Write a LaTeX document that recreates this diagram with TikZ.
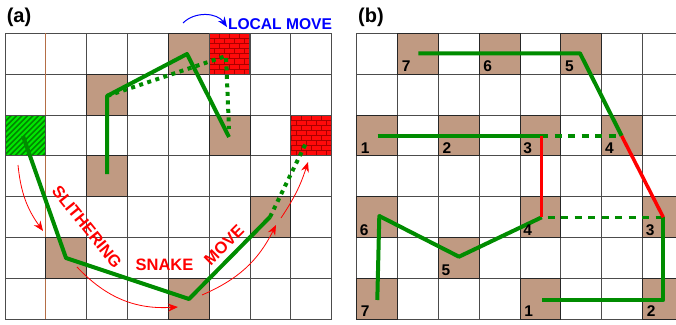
\documentclass[tikz,border=0pt]{standalone}
\usepackage{fontspec}
\setmainfont{Liberation Sans}
\usetikzlibrary{arrows.meta}
\definecolor{cellbrown}{RGB}{192,154,130}
\definecolor{snakegreen}{RGB}{0,140,0}
\definecolor{brickred}{RGB}{255,10,10}
\definecolor{brickline}{RGB}{170,0,0}
\definecolor{hatchlight}{RGB}{0,230,0}
\definecolor{hatchdark}{RGB}{0,135,0}
\definecolor{siennaline}{RGB}{180,110,70}
\newcommand{\cellA}[2]{\path[browncell] ({5+#1*40.85},{33.3+#2*40.85}) rectangle ++(40.85,40.85);}
\newcommand{\cellB}[2]{\path[browncell] ({356.7+#1*40.85},{33.3+#2*40.85}) rectangle ++(40.85,40.85);}
\newcommand{\brickcell}[2]{%
  \begin{scope}
    \clip (#1,#2) rectangle ++(40.85,40.85);
    \fill[brickred] (#1,#2) rectangle ++(40.85,40.85);
    \foreach \k in {0,...,8}{
      \draw[brickline,line width=0.7pt] (#1,{#2+\k*5.1}) -- ++(40.85,0);
      \foreach \m in {0,...,4}{
        \draw[brickline,line width=0.7pt] ({#1+mod(\k,2)*5+\m*10},{#2+\k*5.1}) -- ++(0,5.1);
      }
    }
  \end{scope}
  \draw[black!70,line width=1pt] (#1,#2) rectangle ++(40.85,40.85);
}
\newcommand{\hatchcell}[2]{%
  \begin{scope}
    \clip (#1,#2) rectangle ++(40.85,40.85);
    \fill[hatchlight] (#1,#2) rectangle ++(40.85,40.85);
    \foreach \t in {-45,-39.5,...,45}{
      \draw[hatchdark,line width=1.6pt] ({#1+\t},{#2+40.85}) -- ++(40.85,-40.85);
    }
  \end{scope}
  \draw[black!70,line width=1pt] (#1,#2) rectangle ++(40.85,40.85);
}
\begin{document}
\begin{tikzpicture}[x=1pt,y=-1pt,
  gridln/.style={draw=black!70,line width=1pt},
  browncell/.style={fill=cellbrown,draw=black!85,line width=1pt},
  gline/.style={draw=snakegreen,line width=4pt,line join=round},
  gdots/.style={draw=snakegreen,line width=4pt,dash pattern=on 4pt off 4.5pt},
  gdash/.style={draw=snakegreen,line width=3.5pt,dash pattern=on 7pt off 6.5pt},
  bond/.style={draw=red,line width=3.5pt},
  movearrow/.style={draw=red,line width=0.8pt,-{Stealth[length=10pt,width=8pt]}},
  lbl/.style={font=\fontsize{16.5}{18}\selectfont\bfseries,text=red,inner sep=0pt},
  panellbl/.style={font=\fontsize{20}{22}\selectfont\bfseries,inner sep=0pt},
  numlbl/.style={font=\fontsize{15.5}{17}\selectfont\bfseries,inner sep=0pt,anchor=base west},
]
\useasboundingbox (0,0) rectangle (676,324);
\fill[white] (0,0) rectangle (676,324);

% ---------------- panel (a) grid
\foreach \i in {0,...,8}
  \draw[gridln] ({5+\i*40.85},33.3) -- ({5+\i*40.85},{33.3+7*40.85});
\foreach \j in {0,...,7}
  \draw[gridln] (5,{33.3+\j*40.85}) -- ({5+8*40.85},{33.3+\j*40.85});
\draw[siennaline,line width=1pt] (45.85,33.3) -- (45.85,{33.3+7*40.85});

\cellA{4}{0}
\cellA{2}{1}
\cellA{5}{2}
\cellA{2}{3}
\cellA{6}{4}
\cellA{1}{5}
\cellA{4}{6}
\brickcell{209}{33.3}
\brickcell{290.95}{115}
\hatchcell{5}{115}

% ---------------- panel (b) grid
\begin{scope}
  \clip (340,0) rectangle (676,324);
  \foreach \i in {0,...,8}
    \draw[gridln] ({356.7+\i*40.85},33.3) -- ({356.7+\i*40.85},{33.3+7*40.85});
  \foreach \j in {0,...,7}
    \draw[gridln] (356.7,{33.3+\j*40.85}) -- ({356.7+8*40.85},{33.3+\j*40.85});
  \cellB{1}{0}
  \cellB{3}{0}
  \cellB{5}{0}
  \cellB{0}{2}
  \cellB{2}{2}
  \cellB{4}{2}
  \cellB{6}{2}
  \cellB{0}{4}
  \cellB{4}{4}
  \cellB{7}{4}
  \cellB{2}{5}
  \cellB{0}{6}
  \cellB{4}{6}
  \cellB{7}{6}
\end{scope}

% ---------------- panel (a) chains
\coordinate (a1) at (23,136);
\coordinate (a2) at (66,258);
\coordinate (a3) at (189,299);
\coordinate (a4) at (270,217);
\coordinate (a5) at (307,141);
\coordinate (q1) at (107,174);
\coordinate (q2) at (107,96);
\coordinate (q3) at (187,54);
\coordinate (q4) at (229,137);
\coordinate (r1) at (226,56);
\coordinate (r2) at (229,129);

\draw[gdots] (q2) -- (r1) -- (r2);
\draw[gline] (q1) -- (q2) -- (q3) -- (q4);
\draw[gline] (a1) -- (a2) -- (a3) -- (a4);
\draw[gdots] (a4) -- (a5);

% arrows
\coordinate (s1) at (18,165);
\coordinate (s2) at (43,231);
\coordinate (s3) at (77,267);
\coordinate (s4) at (178,307);
\coordinate (s5) at (202,295);
\coordinate (s6) at (276,225);
\coordinate (s7) at (281,218);
\coordinate (s8) at (308,162);
\draw[movearrow] (s1) to[bend right=15] (s2);
\draw[movearrow] (s3) to[bend right=25] (s4);
\draw[movearrow] (s5) to[bend right=20] (s6);
\draw[movearrow] (s7) to[bend right=8] (s8);

\coordinate (b1) at (183,23);
\coordinate (b2) at (227,27);
\draw[blue,line width=1pt,-{Stealth[length=10pt,width=8pt]}] (b1) to[bend left=50] (b2);

\node[lbl,rotate=-51] (slith) at (87,227) {SLITHERING};
\node[lbl] (snk) at (164.5,265) {SNAKE};
\node[lbl,rotate=45] (mov) at (224,245) {MOVE};
\node[lbl,text=blue,font=\fontsize{15.6}{18}\selectfont\bfseries] (loc) at (280,24) {LOCAL MOVE};
\node[panellbl] (pa) at (19,17.5) {(a)};
\node[panellbl] (pb) at (371,17.5) {(b)};

% ---------------- panel (b) chains
\coordinate (t7) at (418.3,53.3);
\coordinate (t5) at (580,53.3);
\coordinate (t4) at (621.7,136);
\coordinate (m1) at (377.7,136);
\coordinate (m3) at (541.7,136);
\coordinate (l4) at (541.7,217.3);
\coordinate (l3) at (663.3,217.3);
\coordinate (l2) at (663.3,300);
\coordinate (l1) at (541.7,300);
\coordinate (l5) at (459,256.7);
\coordinate (l6) at (379.3,216);
\coordinate (l7) at (377.3,300);

\draw[gline] (t7) -- (t5) -- (t4);
\draw[gline] (m1) -- ([xshift=6pt]m3);
\draw[gdash] ([xshift=13pt]m3) -- (t4);
\draw[gdash] ([xshift=6pt]l4) -- (l3);
\draw[gline] (l3) -- (l2) -- (l1);
\draw[gline] (l4) -- (l5) -- (l6) -- (l7);
\draw[bond] (m3) -- (l4);
\draw[bond] (t4) -- (l3);

% numbers
\node[numlbl] (n7t) at ({356.7+1*40.85+4},{33.3+1*40.85-2.5}) {7};
\node[numlbl] (n6t) at ({356.7+3*40.85+4},{33.3+1*40.85-2.5}) {6};
\node[numlbl] (n5t) at ({356.7+5*40.85+4},{33.3+1*40.85-2.5}) {5};
\node[numlbl] (n1m) at ({356.7+0*40.85+4},{33.3+3*40.85-2.5}) {1};
\node[numlbl] (n2m) at ({356.7+2*40.85+4},{33.3+3*40.85-2.5}) {2};
\node[numlbl] (n3m) at ({356.7+4*40.85+3},{33.3+3*40.85-2.5}) {3};
\node[numlbl] (n4m) at ({356.7+6*40.85+3},{33.3+3*40.85-2.5}) {4};
\node[numlbl] (n6b) at ({356.7+0*40.85+3},{33.3+5*40.85-2.5}) {6};
\node[numlbl] (n4b) at ({356.7+4*40.85+3},{33.3+5*40.85-2.5}) {4};
\node[numlbl] (n3b) at ({356.7+7*40.85+3},{33.3+5*40.85-2.5}) {3};
\node[numlbl] (n5b) at ({356.7+2*40.85+3},{33.3+6*40.85-2.5}) {5};
\node[numlbl] (n7b) at ({356.7+0*40.85+4},{33.3+7*40.85-2.5}) {7};
\node[numlbl] (n1b) at ({356.7+4*40.85+4},{33.3+7*40.85-2.5}) {1};
\node[numlbl] (n2b) at ({356.7+7*40.85+4},{33.3+7*40.85-2.5}) {2};
\end{tikzpicture}
\end{document}
